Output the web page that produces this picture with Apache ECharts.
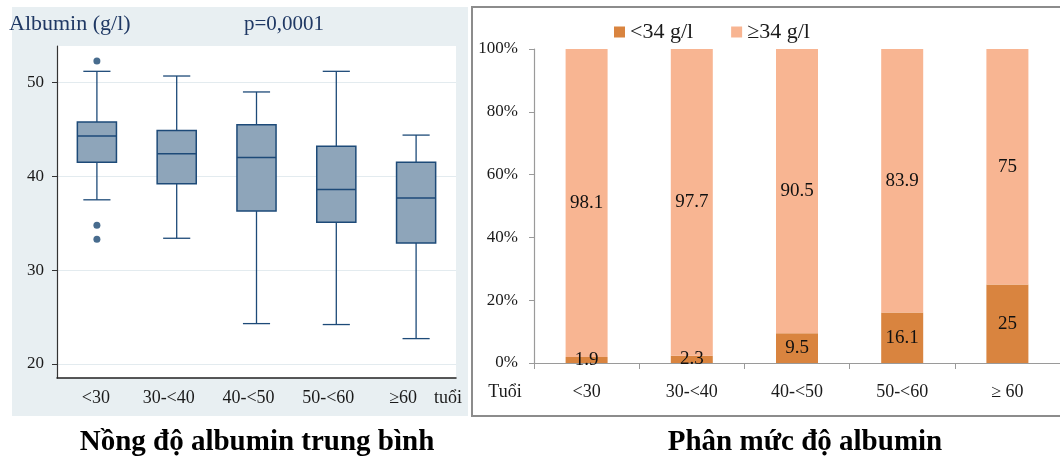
<!DOCTYPE html>
<html>
<head>
<meta charset="utf-8">
<script src="https://cdn.jsdelivr.net/npm/echarts@6/dist/echarts.min.js"></script>
<style>
  html, body { margin: 0; padding: 0; background: #ffffff; }
  #chart { width: 1060px; height: 463px; }
</style>
</head>
<body>
<div id="chart"></div>
<script>
// Age groups and albumin box statistics (g/l)
const ageGroups = ['<30', '30-<40', '40-<50', '50-<60', '≥60'];
const whiskerLow = [37.5, 33.4, 24.3, 24.2, 22.7];
const quartile1 = [41.5, 39.2, 36.3, 35.1, 32.9];
const medians = [44.3, 42.4, 42.0, 38.6, 37.7];
const quartile3 = [45.8, 44.9, 45.5, 43.2, 41.5];
const whiskerHigh = [51.2, 50.7, 49.0, 51.2, 44.4];
const outlierGroup = [0, 0, 0];
const outlierValues = [52.3, 34.8, 33.3];
const albuminTicks = [20, 30, 40, 50];

// Share of patients by albumin level (%)
const ageGroupsPct = ['<30', '30-<40', '40-<50', '50-<60', '≥ 60'];
const lowAlbumin = [1.9, 2.3, 9.5, 16.1, 25];
const normalAlbumin = [98.1, 97.7, 90.5, 83.9, 75];

const FONT = '"Liberation Serif", "Times New Roman", serif';
const NAVY = '#1d4a78';

const boxData = ageGroups.map((g, i) => [i, whiskerLow[i], quartile1[i], medians[i], quartile3[i], whiskerHigh[i]]);
const outlierData = outlierGroup.map((g, i) => [g, outlierValues[i]]);

// Label nudges so the last group label leaves room for the "tuổi" unit
const labelStyleKeys = ['a', 'b', 'b', 'b', 'c'];

function renderBox(params, api) {
  const x = api.value(0);
  const pLow = api.coord([x, api.value(1)]);
  const pQ1 = api.coord([x, api.value(2)]);
  const pMed = api.coord([x, api.value(3)]);
  const pQ3 = api.coord([x, api.value(4)]);
  const pHigh = api.coord([x, api.value(5)]);
  const band = api.size([1, 0])[0];
  const half = band * 0.245;
  const cap = band * 0.17;
  const cx = pMed[0];
  const line = { stroke: NAVY, lineWidth: 1.3 };
  return {
    type: 'group',
    children: [
      { type: 'line', shape: { x1: cx, y1: pQ3[1], x2: cx, y2: pHigh[1] }, style: line },
      { type: 'line', shape: { x1: cx, y1: pQ1[1], x2: cx, y2: pLow[1] }, style: line },
      { type: 'line', shape: { x1: cx - cap, y1: pHigh[1], x2: cx + cap, y2: pHigh[1] }, style: line },
      { type: 'line', shape: { x1: cx - cap, y1: pLow[1], x2: cx + cap, y2: pLow[1] }, style: line },
      { type: 'rect', shape: { x: cx - half, y: pQ3[1], width: half * 2, height: pQ1[1] - pQ3[1] },
        style: { fill: '#8ea5ba', stroke: NAVY, lineWidth: 1.5 } },
      { type: 'line', shape: { x1: cx - half, y1: pMed[1], x2: cx + half, y2: pMed[1] },
        style: { stroke: NAVY, lineWidth: 1.5 } }
    ]
  };
}

const chart = echarts.init(document.getElementById('chart'), null, { renderer: 'canvas' });

const option = {
  animation: false,
  textStyle: { fontFamily: FONT },
  graphic: [
    { type: 'rect', z: -10, shape: { x: 12, y: 7, width: 456, height: 409 },
      style: { fill: '#e8eff2' } },
    { type: 'rect', z: -10, shape: { x: 472, y: 7, width: 640, height: 409 },
      style: { fill: '#ffffff', stroke: '#8c8c8c', lineWidth: 2 } },
    { type: 'text', x: 9, y: 24, style: { text: 'Albumin (g/l)', fill: '#1f3864', font: '22px ' + FONT, textVerticalAlign: 'middle' } },
    { type: 'text', x: 284, y: 24, style: { text: 'p=0,0001', fill: '#1f3864', font: '21px ' + FONT, textAlign: 'center', textVerticalAlign: 'middle' } },
    { type: 'text', x: 448, y: 398, style: { text: 'tuổi', fill: '#1a1a1a', font: '18px ' + FONT, textAlign: 'center', textVerticalAlign: 'middle' } },
    { type: 'text', x: 505, y: 392, style: { text: 'Tuổi', fill: '#1a1a1a', font: '18px ' + FONT, textAlign: 'center', textVerticalAlign: 'middle' } },
    { type: 'text', x: 257, y: 443, style: { text: 'Nồng độ albumin trung bình', fill: '#000', font: 'bold 29px ' + FONT, textAlign: 'center', textVerticalAlign: 'middle' } },
    { type: 'text', x: 805, y: 443, style: { text: 'Phân mức độ albumin', fill: '#000', font: 'bold 29px ' + FONT, textAlign: 'center', textVerticalAlign: 'middle' } }
  ],
  legend: {
    left: 609, top: 16,
    itemWidth: 11, itemHeight: 11, itemGap: 38,
    icon: 'rect',
    textStyle: { fontFamily: FONT, fontSize: 22, color: '#1a1a1a' },
    data: ['<34 g/l', '≥34 g/l']
  },
  grid: [
    { left: 57, top: 46, width: 399, height: 332, show: true, backgroundColor: '#ffffff', borderWidth: 0 },
    { left: 534, top: 49, width: 536, height: 314 }
  ],
  xAxis: [
    {
      gridIndex: 0, type: 'category', data: ageGroups,
      axisLine: { lineStyle: { color: '#222', width: 1.5 } },
      axisTick: { show: false },
      axisLabel: {
        interval: 0, hideOverlap: false,
        color: '#1a1a1a', fontSize: 18, margin: 11, fontFamily: FONT,
        formatter: (v, i) => '{' + labelStyleKeys[i] + '|' + v + '}',
        rich: {
          a: { fontSize: 18, fontFamily: FONT, color: '#1a1a1a', padding: [0, 2, 0, 0] },
          b: { fontSize: 18, fontFamily: FONT, color: '#1a1a1a', padding: [0, 16, 0, 0] },
          c: { fontSize: 18, fontFamily: FONT, color: '#1a1a1a', padding: [0, 26, 0, 0] }
        }
      },
      splitLine: { show: false }
    },
    {
      gridIndex: 1, type: 'category', data: ageGroupsPct,
      axisLine: { lineStyle: { color: '#9a9a9a', width: 1.2 } },
      axisTick: { show: true, length: 6, lineStyle: { color: '#9a9a9a' } },
      axisLabel: { interval: 0, color: '#1a1a1a', fontSize: 18, margin: 20, fontFamily: FONT }
    }
  ],
  yAxis: [
    {
      gridIndex: 0, type: 'value', min: 18.5, max: 53.9,
      axisLine: { show: true, lineStyle: { color: '#333', width: 1.2 } },
      axisTick: { show: true, length: 5, lineStyle: { color: '#333' }, customValues: albuminTicks },
      axisLabel: { color: '#1a1a1a', fontSize: 17, margin: 13, fontFamily: FONT, customValues: albuminTicks },
      splitLine: { show: true, lineStyle: { color: '#e3ebef', width: 1.2 } }
    },
    {
      gridIndex: 1, type: 'value', min: 0, max: 100, interval: 20,
      axisLine: { show: true, lineStyle: { color: '#9a9a9a', width: 1.2 } },
      axisTick: { show: true, length: 5, lineStyle: { color: '#9a9a9a' } },
      axisLabel: { color: '#1a1a1a', fontSize: 17, margin: 16, fontFamily: FONT, formatter: '{value}%' },
      splitLine: { show: false }
    }
  ],
  series: [
    {
      type: 'custom', name: 'albumin', xAxisIndex: 0, yAxisIndex: 0,
      renderItem: renderBox,
      encode: { x: 0, y: [1, 2, 3, 4, 5] },
      data: boxData, z: 3
    },
    {
      type: 'scatter', name: 'outliers', xAxisIndex: 0, yAxisIndex: 0,
      symbolSize: 7, itemStyle: { color: '#1a4772' },
      data: outlierData, z: 4
    },
    {
      type: 'bar', name: '<34 g/l', xAxisIndex: 1, yAxisIndex: 1, stack: 'pct',
      barWidth: 42, itemStyle: { color: '#d9843f' },
      label: { show: true, position: 'inside', color: '#111', fontSize: 19, fontFamily: FONT },
      data: lowAlbumin
    },
    {
      type: 'bar', name: '≥34 g/l', xAxisIndex: 1, yAxisIndex: 1, stack: 'pct',
      barWidth: 42, itemStyle: { color: '#f8b592' },
      label: { show: true, position: 'inside', color: '#111', fontSize: 19, fontFamily: FONT },
      data: normalAlbumin
    }
  ]
};

chart.setOption(option);
</script>
</body>
</html>
